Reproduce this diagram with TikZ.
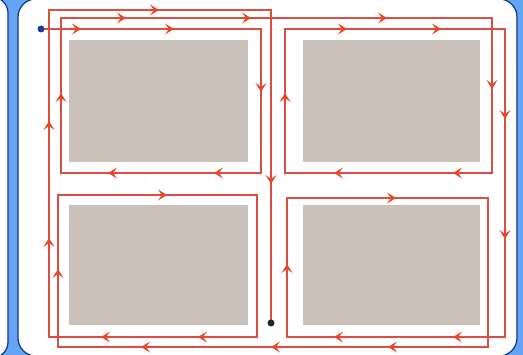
\documentclass[tikz,border=0pt]{standalone}
\usepackage{xcolor}
\usepackage{tikz}
\usetikzlibrary{arrows.meta}
\definecolor{frameblue}{RGB}{102, 164, 245}
\definecolor{framenavy}{RGB}{12, 52, 135}
\definecolor{block}{RGB}{201, 193, 186}
\definecolor{route}{RGB}{218, 78, 68}
\definecolor{tipred}{RGB}{232, 72, 42}
\definecolor{startdot}{RGB}{30, 60, 150}
\definecolor{enddot}{RGB}{25, 40, 40}

\begin{document}
\begin{tikzpicture}[
    x=1pt, y=-1pt,
    panel/.style={fill=white, draw=framenavy, line width=1.2pt},
    lot/.style={fill=block},
    routeline/.style={draw=route, line width=1.2pt, line join=miter},
    tipmark/.style={draw=tipred, line width=1.2pt, -{Stealth[length=9pt, width=11pt, inset=4pt]}},
    dot/.style={circle, inner sep=0pt, minimum size=7pt}
]

    % Frame
    \useasboundingbox (0,0) rectangle (523,355);
    \clip (0,0) rectangle (523,355);
    \fill[frameblue] (0,0) rectangle (523,355);
    \draw[panel, rounded corners=16pt] (-30,-3) rectangle (8,358);
    \draw[panel, rounded corners=18pt] (18,-1) rectangle (517,356);

    % Blocks
    \fill[lot] (69,40) rectangle (248,162);
    \fill[lot] (303,40) rectangle (480,162);
    \fill[lot] (69,205) rectangle (248,325);
    \fill[lot] (303,205) rectangle (480,325);

    % Route
    \coordinate (start) at (41,29);
    \coordinate (stop) at (271,323);
    \draw[routeline] (start) -- (261,29) -- (261,173) -- (61,173) -- (61,18)
        -- (492,18) -- (492,173) -- (285,173) -- (285,29) -- (505,29)
        -- (505,337) -- (287,337) -- (287,198) -- (488,198) -- (488,347)
        -- (58,347) -- (58,195) -- (257,195) -- (257,337) -- (49,337)
        -- (49,10) -- (271,10) -- (stop);

    % Arrows (0 right, 180 left, 90 down, -90 up)
    \foreach \x/\y/\a in {77/29/0, 170/29/0, 261/88/90, 218/173/180, 112/173/180,
        61/97/-90, 122/18/0, 247/18/0, 383/18/0, 492/85/90, 457/173/180,
        338/173/180, 285/97/-90, 343/29/0, 437/29/0, 505/115/90, 505/235/90,
        457/337/180, 338/337/180, 287/268/-90, 392/198/0, 392/347/180,
        275/347/180, 145/347/180, 58/273/-90, 163/195/0, 202/337/180,
        105/337/180, 49/242/-90, 49/125/-90, 155/10/0, 271/180/90}
        \draw[tipmark] (\x,\y) ++(\a:-4) -- ++(\a:8);

    \node[dot, fill=startdot] (startdot) at (start) {};
    \node[dot, fill=enddot] (stopdot) at (stop) {};

\end{tikzpicture}
\end{document}
